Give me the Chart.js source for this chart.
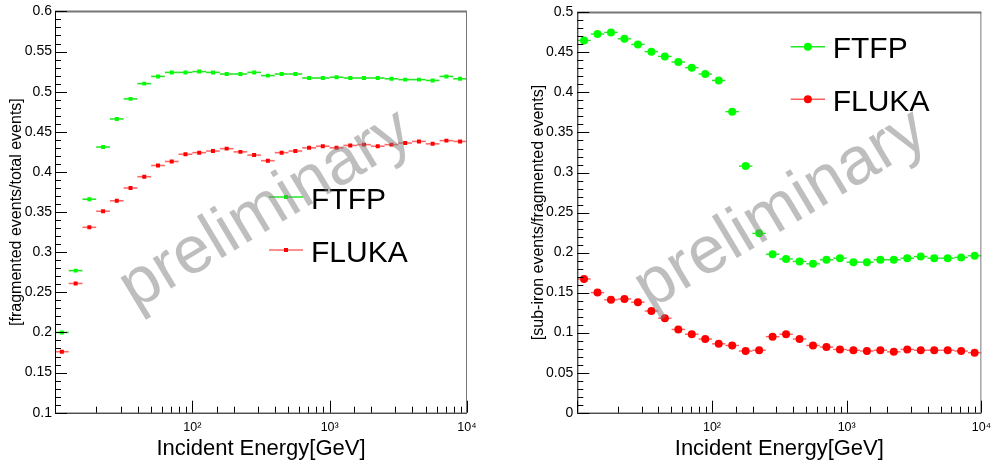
<!DOCTYPE html>
<html>
<head>
<meta charset="utf-8">
<script src="https://cdn.jsdelivr.net/npm/chart.js@4.4.1/dist/chart.umd.min.js"></script>
<style>
  html, body { margin: 0; padding: 0; background: #fff; }
  #wrap { position: relative; width: 998px; height: 467px; }
  .pane { position: absolute; top: 0; width: 499px; height: 467px; }
  #p1 { left: 0; }
  #p2 { left: 499px; }
</style>
</head>
<body>
<div id="wrap">
  <div class="pane" id="p1"><canvas id="c1" width="499" height="467"></canvas></div>
  <div class="pane" id="p2"><canvas id="c2" width="499" height="467"></canvas></div>
</div>
<script>
// energy bins [GeV], 0.1 decade wide
const binEdges = [10, 12.59, 15.85, 19.95, 25.12, 31.62, 39.81, 50.12, 63.10, 79.43,
  100, 125.9, 158.5, 199.5, 251.2, 316.2, 398.1, 501.2, 631.0, 794.3,
  1000, 1259, 1585, 1995, 2512, 3162, 3981, 5012, 6310, 7943, 10000];
const binCenters = [11.22, 14.13, 17.78, 22.39, 28.18, 35.48, 44.67, 56.23, 70.79, 89.13,
  112.2, 141.3, 177.8, 223.9, 281.8, 354.8, 446.7, 562.3, 707.9, 891.3,
  1122, 1413, 1778, 2239, 2818, 3548, 4467, 5623, 7079, 8913];

// fragmented events / total events
const fragFTFP = [0.200, 0.277, 0.366, 0.431, 0.466, 0.491, 0.510, 0.519, 0.524, 0.524,
  0.525, 0.524, 0.522, 0.522, 0.524, 0.520, 0.522, 0.522, 0.517, 0.517,
  0.518, 0.517, 0.517, 0.517, 0.516, 0.515, 0.515, 0.514, 0.519, 0.516];
const fragFLUKA = [0.176, 0.261, 0.331, 0.351, 0.364, 0.380, 0.394, 0.408, 0.413, 0.422,
  0.424, 0.426, 0.429, 0.425, 0.421, 0.414, 0.424, 0.426, 0.430, 0.432,
  0.430, 0.433, 0.434, 0.432, 0.434, 0.436, 0.438, 0.435, 0.439, 0.438];

// sub-iron events / fragmented events
const subFTFP = [0.465, 0.473, 0.475, 0.467, 0.460, 0.451, 0.445, 0.438, 0.431, 0.423,
  0.415, 0.376, 0.308, 0.224, 0.198, 0.192, 0.189, 0.186, 0.191, 0.193,
  0.188, 0.188, 0.191, 0.191, 0.193, 0.195, 0.193, 0.193, 0.194, 0.196];
const subFLUKA = [0.167, 0.150, 0.141, 0.142, 0.138, 0.127, 0.118, 0.104, 0.098, 0.092,
  0.086, 0.084, 0.077, 0.078, 0.095, 0.098, 0.092, 0.084, 0.082, 0.079,
  0.078, 0.077, 0.078, 0.076, 0.079, 0.078, 0.078, 0.078, 0.077, 0.075];

const seriesNames = ['FTFP', 'FLUKA'];
const xTitle = 'Incident Energy[GeV]';
const supDigits = { 2: '\u00b2', 3: '\u00b3', 4: '\u2074' };

const FONT = '"Liberation Sans", Arial, Helvetica, sans-serif';
const GREEN = '#00ff00', RED = '#ff0000';

// ROOT style frame, inward ticks, error bars, legend, watermark
const rootPlugin = {
  id: 'rootStyle',
  beforeDatasetsDraw(chart) {
    const ctx = chart.ctx, xs = chart.scales.x, ys = chart.scales.y;
    chart.data.datasets.forEach(ds => {
      ctx.save();
      ctx.strokeStyle = ds.barColor;
      ctx.lineWidth = ds.barWidth;
      ds.data.forEach((p, i) => {
        const y = ys.getPixelForValue(p.y);
        ctx.beginPath();
        ctx.moveTo(xs.getPixelForValue(binEdges[i]), y);
        ctx.lineTo(xs.getPixelForValue(binEdges[i + 1]), y);
        ctx.stroke();
      });
      ctx.restore();
    });
  },
  afterDatasetsDraw(chart, args, opts) {
    const ctx = chart.ctx, a = chart.chartArea, xs = chart.scales.x, ys = chart.scales.y;
    ctx.save();
    // frame
    ctx.strokeStyle = '#777';
    ctx.lineWidth = 2;
    ctx.beginPath(); ctx.moveTo(a.left, a.top); ctx.lineTo(a.right, a.top); ctx.stroke();
    ctx.lineWidth = 1;
    ctx.beginPath(); ctx.moveTo(a.right - 0.5, a.top); ctx.lineTo(a.right - 0.5, a.bottom); ctx.stroke();
    ctx.strokeStyle = '#000';
    ctx.beginPath();
    ctx.moveTo(a.left + 0.5, a.top); ctx.lineTo(a.left + 0.5, a.bottom);
    ctx.moveTo(a.left, a.bottom + 0.5); ctx.lineTo(a.right, a.bottom + 0.5);
    ctx.stroke();
    // x ticks (inward)
    ctx.beginPath();
    xs.ticks.forEach(t => {
      const v = t.value;
      if (v < xs.min || v > xs.max) return;
      const px = Math.round(xs.getPixelForValue(v)) + 0.5;
      const major = Math.abs(Math.log10(v) - Math.round(Math.log10(v))) < 1e-6;
      ctx.moveTo(px, a.bottom);
      ctx.lineTo(px, a.bottom - (major ? 12 : 6));
    });
    // y ticks (inward), minor every 0.01
    const n = Math.round((ys.max - ys.min) / 0.01);
    for (let k = 0; k <= n; k++) {
      const py = Math.round(ys.getPixelForValue(ys.min + k * 0.01)) + 0.5;
      ctx.moveTo(a.left, py);
      ctx.lineTo(a.left + (k % 5 === 0 ? 12 : 6), py);
    }
    ctx.stroke();

    // legend
    ctx.font = '30px ' + FONT;
    ctx.textBaseline = 'alphabetic';
    ctx.fillStyle = '#000';
    chart.data.datasets.forEach((ds, i) => {
      const L = opts.legend[i];
      ctx.strokeStyle = ds.barColor;
      ctx.lineWidth = ds.barWidth;
      ctx.beginPath(); ctx.moveTo(L.x0, L.y); ctx.lineTo(L.x1, L.y); ctx.stroke();
      ctx.fillStyle = ds.backgroundColor;
      if (ds.pointStyle === 'circle') {
        ctx.beginPath(); ctx.arc((L.x0 + L.x1) / 2, L.y, ds.pointRadius, 0, Math.PI * 2); ctx.fill();
      } else {
        ctx.fillRect((L.x0 + L.x1) / 2 - 2, L.y - 2, 4, 4);
      }
      ctx.fillStyle = '#000';
      ctx.fillText(ds.label, L.tx, L.ty);
    });
    ctx.restore();
  },
  afterDraw(chart, args, opts) {
    const ctx = chart.ctx, w = opts.mark;
    ctx.save();
    ctx.translate(w.x, w.y);
    ctx.rotate(-w.angle * Math.PI / 180);
    ctx.font = w.size + 'px ' + FONT;
    ctx.fillStyle = 'rgba(125,125,125,0.5)';
    ctx.textAlign = 'center';
    ctx.textBaseline = 'middle';
    ctx.fillText('preliminary', 0, 0);
    ctx.restore();
  }
};

function makePanel(id, p) {
  const mk = (vals, k) => ({
    label: seriesNames[k],
    data: binCenters.map((x, i) => ({ x, y: vals[i] })),
    backgroundColor: k === 0 ? GREEN : RED,
    borderWidth: 0,
    pointStyle: p.pointStyle,
    pointRadius: p.pointRadius,
    pointHoverRadius: p.pointRadius,
    barColor: k === 0 ? p.barGreen : p.barRed,
    barWidth: p.barWidth
  });
  return new Chart(document.getElementById(id), {
    type: 'scatter',
    data: { datasets: [mk(p.ftfp, 0), mk(p.fluka, 1)] },
    options: {
      responsive: false,
      animation: false,
      layout: { padding: { top: 11, right: p.padRight, left: 0, bottom: 0 } },
      plugins: {
        legend: { display: false },
        tooltip: { enabled: false },
        rootStyle: { legend: p.legend, mark: p.mark }
      },
      scales: {
        x: {
          type: 'logarithmic', min: 10, max: 10000,
          grid: { display: false, drawTicks: false },
          border: { display: false },
          ticks: {
            autoSkip: false, maxRotation: 0, padding: 7, color: '#000',
            font: { family: FONT, size: 12.5 },
            callback: v => {
              const e = Math.log10(v);
              return (Math.abs(e - Math.round(e)) < 1e-6 && Math.round(e) > 1) ? '10' + supDigits[Math.round(e)] : '';
            }
          },
          title: { display: true, text: xTitle, color: '#000', font: { family: FONT, size: 22 }, padding: { top: 0, bottom: 5 } },
          afterFit: s => { s.height = 54.3; }
        },
        y: {
          min: p.yMin, max: p.yMax,
          grid: { display: false, drawTicks: false },
          border: { display: false },
          ticks: {
            stepSize: 0.05, padding: p.tickPad, color: '#000',
            font: { family: FONT, size: 14 },
            callback: v => String(parseFloat(v.toFixed(2)))
          },
          title: { display: true, text: p.yTitle, color: '#000', font: { family: FONT, size: 16 }, padding: { top: p.titlePad, bottom: 0 } },
          afterFit: s => { s.width = p.yWidth; }
        }
      }
    },
    plugins: [rootPlugin]
  });
}

makePanel('c1', {
  ftfp: fragFTFP, fluka: fragFLUKA,
  yMin: 0.1, yMax: 0.6, yTitle: '[fragmented events/total events]',
  yWidth: 55, padRight: 32, tickPad: 3, titlePad: 7,
  pointStyle: 'rect', pointRadius: 2.8,
  barGreen: 'rgba(0,225,0,0.85)', barRed: 'rgba(255,40,40,0.7)', barWidth: 1.6,
  legend: [
    { x0: 269, x1: 303, y: 197, tx: 311, ty: 209 },
    { x0: 269, x1: 303, y: 250, tx: 311, ty: 262 }
  ],
  mark: { x: 266, y: 210, angle: 31, size: 67 }
});

makePanel('c2', {
  ftfp: subFTFP, fluka: subFLUKA,
  yMin: 0, yMax: 0.5, yTitle: '[sub-iron events/fragmented events]',
  yWidth: 78.3, padRight: 9.7, tickPad: 4, titlePad: 30,
  pointStyle: 'circle', pointRadius: 4,
  barGreen: 'rgba(0,225,0,0.85)', barRed: 'rgba(255,40,40,0.75)', barWidth: 1.4,
  legend: [
    { x0: 291.7, x1: 326, y: 46.7, tx: 333.7, ty: 58.3 },
    { x0: 291.7, x1: 326, y: 99.3, tx: 333.7, ty: 111 }
  ],
  mark: { x: 282, y: 210, angle: 31, size: 67 }
});
</script>
</body>
</html>
